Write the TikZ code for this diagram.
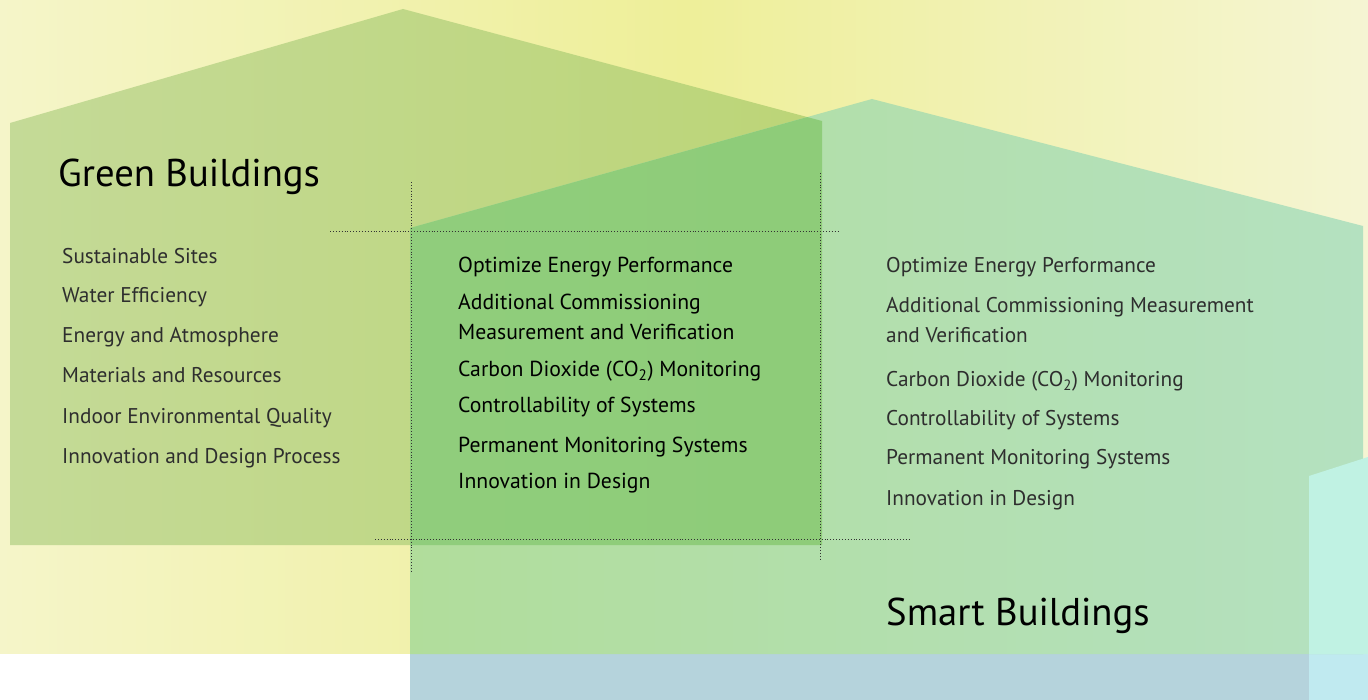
\documentclass[tikz,border=0pt]{standalone}
\usepackage{fontspec}
\setmainfont{PT Sans}
\definecolor{bgL}{HTML}{F5F5C9}
\definecolor{bgM}{HTML}{EEEF99}
\definecolor{bgR}{HTML}{F5F5D3}
\definecolor{gL}{HTML}{C4DA97}
\definecolor{gR}{HTML}{BCD577}
\definecolor{oL}{HTML}{90CD7C}
\definecolor{oR}{HTML}{8BCB74}
\definecolor{sL}{HTML}{B1DD9B}
\definecolor{sR}{HTML}{B4E1C0}
\definecolor{blueband}{HTML}{B5D3DC}
\definecolor{cyanT}{HTML}{C0F2E3}
\definecolor{cyanB}{HTML}{C0EAF0}
\begin{document}
\begin{tikzpicture}[x=1pt,y=-1pt,
  dotline/.style={draw=black!80,line width=0.9pt,dash pattern=on 0.9pt off 2pt},
  item/.style={anchor=base west,inner sep=0pt,text=black!82,font=\fontsize{21.3}{21.3}\selectfont},
  mid/.style={anchor=base west,inner sep=0pt,text=black,font=\fontsize{21.7}{21.7}\selectfont},
  title/.style={anchor=base west,inner sep=0pt,text=black,font=\fontsize{38.7}{38.7}\selectfont}]
\useasboundingbox (0,0) rectangle (1368,700);
% background
\shade[left color=bgL,right color=bgR,middle color=bgM] (0,0) rectangle (1368,654);
\fill[white] (0,654) rectangle (410,700);
\fill[blueband] (410,654) rectangle (1309,700);
\fill[cyanB] (1309,654) rectangle (1368,700);
% green house
\shade[left color=gL,right color=gR] (10,545) -- (10,123) -- (403,9) -- (822,121) -- (822,545) -- cycle;
% smart house
\shade[left color=sL,right color=sR] (410,654) -- (410,228) -- (872,99) -- (1363,226) -- (1363,654) -- cycle;
% overlap
\begin{scope}
  \clip (10,545) -- (10,123) -- (403,9) -- (822,121) -- (822,545) -- cycle;
  \shade[left color=oL,right color=oR] (410,654) -- (410,228) -- (872,99) -- (1363,226) -- (1363,654) -- cycle;
\end{scope}
% third house edge
\fill[cyanT] (1309,654) -- (1309,476) -- (1368,457) -- (1368,654) -- cycle;
% dotted guides
\coordinate (h1a) at (330,231); \coordinate (h1b) at (838,231);
\coordinate (h2a) at (375,539); \coordinate (h2b) at (910,539);
\coordinate (v1a) at (411,182); \coordinate (v1b) at (411,572);
\coordinate (v2a) at (820,173); \coordinate (v2b) at (820,559);
\draw[dotline] (h1a) -- (h1b);
\draw[dotline] (h2a) -- (h2b);
\draw[dotline] (v1a) -- (v1b);
\draw[dotline] (v2a) -- (v2b);
% titles
\node[title] (gb) at (58,187) {Green Buildings};
\node[title] (sb) at (886,625) {Smart Buildings};
% left list
\node[item] (l1) at (62,264) {Sustainable Sites};
\node[item] (l2) at (62,303) {Water Efficiency};
\node[item] (l3) at (62,343) {Energy and Atmosphere};
\node[item] (l4) at (62,383) {Materials and Resources};
\node[item] (l5) at (62,423) {Indoor Environmental Quality};
\node[item] (l6) at (62,463) {Innovation and Design Process};
% middle list
\node[mid] (m1) at (458,273) {Optimize Energy Performance};
\node[mid] (m2) at (458,310) {Additional Commissioning};
\node[mid] (m3) at (458,340) {Measurement and Verification};
\node[mid] (m4) at (458,377) {Carbon Dioxide (CO\textsubscript{2}) Monitoring};
\node[mid] (m5) at (458,413) {Controllability of Systems};
\node[mid] (m6) at (458,452) {Permanent Monitoring Systems};
\node[mid] (m7) at (458,488) {Innovation in Design};
% right list
\node[item] (r1) at (886,273) {Optimize Energy Performance};
\node[item] (r2) at (886,313) {Additional Commissioning Measurement};
\node[item] (r3) at (886,343) {and Verification};
\node[item] (r4) at (886,387) {Carbon Dioxide (CO\textsubscript{2}) Monitoring};
\node[item] (r5) at (886,425) {Controllability of Systems};
\node[item] (r6) at (886,464) {Permanent Monitoring Systems};
\node[item] (r7) at (886,505) {Innovation in Design};
\end{tikzpicture}
\end{document}
